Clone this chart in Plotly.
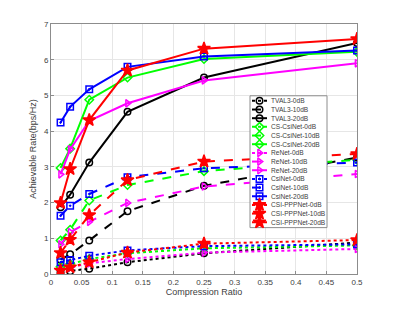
import plotly.graph_objects as go

x = [1/64, 1/32, 1/16, 1/8, 1/4, 1/2]

tval3_0 = [0.05, 0.08, 0.15, 0.33, 0.58, 0.88]
tval3_10 = [0.40, 0.55, 0.94, 1.76, 2.47, 3.26]
tval3_20 = [1.87, 2.22, 3.12, 4.54, 5.50, 6.47]
cscsi_0 = [0.20, 0.28, 0.42, 0.58, 0.72, 0.80]
cscsi_10 = [0.94, 1.24, 2.06, 2.49, 2.88, 3.20]
cscsi_20 = [2.97, 3.51, 4.88, 5.50, 6.02, 6.22]
renet_0 = [0.12, 0.18, 0.30, 0.42, 0.60, 0.70]
renet_10 = [0.83, 1.17, 1.46, 1.99, 2.45, 2.80]
renet_20 = [2.79, 3.49, 4.29, 4.78, 5.42, 5.90]
csinet_0 = [0.33, 0.39, 0.51, 0.66, 0.78, 0.83]
csinet_10 = [1.63, 1.91, 2.24, 2.71, 2.96, 3.12]
csinet_20 = [4.24, 4.68, 5.17, 5.80, 6.09, 6.26]
ppp_0 = [0.10, 0.19, 0.33, 0.60, 0.85, 0.95]
ppp_10 = [0.59, 0.96, 1.65, 2.63, 3.15, 3.36]
ppp_20 = [1.99, 2.94, 4.31, 5.70, 6.31, 6.58]

x_ticks = [0, 0.05, 0.1, 0.15, 0.2, 0.25, 0.3, 0.35, 0.4, 0.45, 0.5]
x_ticktext = ["0", "0.05", "0.1", "0.15", "0.2", "0.25", "0.3", "0.35", "0.4", "0.45", "0.5"]

series = [
    ("TVAL3-0dB", tval3_0, "black", "dot", "circle-open"),
    ("TVAL3-10dB", tval3_10, "black", "dash", "circle-open"),
    ("TVAL3-20dB", tval3_20, "black", "solid", "circle-open"),
    ("CS-CsiNet-0dB", cscsi_0, "#00ff00", "dot", "diamond-open"),
    ("CS-CsiNet-10dB", cscsi_10, "#00ff00", "dash", "diamond-open"),
    ("CS-CsiNet-20dB", cscsi_20, "#00ff00", "solid", "diamond-open"),
    ("ReNet-0dB", renet_0, "#ff00ff", "dot", "triangle-right-open"),
    ("ReNet-10dB", renet_10, "#ff00ff", "dash", "triangle-right-open"),
    ("ReNet-20dB", renet_20, "#ff00ff", "solid", "triangle-right-open"),
    ("CsiNet-0dB", csinet_0, "#0000ff", "dot", "square-open-dot"),
    ("CsiNet-10dB", csinet_10, "#0000ff", "dash", "square-open-dot"),
    ("CsiNet-20dB", csinet_20, "#0000ff", "solid", "square-open-dot"),
    ("CSI-PPPNet-0dB", ppp_0, "#ff0000", "dot", "star"),
    ("CSI-PPPNet-10dB", ppp_10, "#ff0000", "dash", "star"),
    ("CSI-PPPNet-20dB", ppp_20, "#ff0000", "solid", "star"),
]

FONT = "Liberation Sans, Arial"
TXT = "#404040"

def msize(sym):
    return 9.5 if sym == "star" else 6.5

fig = go.Figure()
for name, y, color, dash, sym in series:
    fig.add_trace(go.Scatter(
        x=x, y=y, name=name, mode="lines+markers", showlegend=False,
        line=dict(color=color, dash=dash, width=2),
        marker=dict(symbol=sym, size=msize(sym), color=color,
                    line=dict(color=color, width=1.5)),
    ))

# ---- compact legend drawn on an overlay axis in plot-area fractions ----
PL, PR, PT, PB = 51.0, 357.0, 24.0, 280.0   # plot area in page pixels
def fx(px):
    return (px - PL) / (PR - PL)
def fy(py):
    return (PB - py) / (PB - PT)

bx0, bx1, by0, by1 = 250, 327, 97.5, 232.5
fig.add_trace(go.Scatter(
    x=[fx(bx0), fx(bx1), fx(bx1), fx(bx0), fx(bx0)],
    y=[fy(by0), fy(by0), fy(by1), fy(by1), fy(by0)],
    mode="lines", fill="toself", fillcolor="white",
    line=dict(color="#8c8c8c", width=1), xaxis="x2", yaxis="y2",
    showlegend=False, hoverinfo="skip"))

annotations = []
for i, (name, y, color, dash, sym) in enumerate(series):
    yy = 102.7 + i * 8.88
    fig.add_trace(go.Scatter(
        x=[fx(252), fx(267)], y=[fy(yy), fy(yy)], mode="lines",
        line=dict(color=color, dash=dash, width=2),
        xaxis="x2", yaxis="y2", showlegend=False, hoverinfo="skip"))
    fig.add_trace(go.Scatter(
        x=[fx(259.5)], y=[fy(yy)], mode="markers",
        marker=dict(symbol=sym, size=msize(sym), color=color,
                    line=dict(color=color, width=1.5)),
        xaxis="x2", yaxis="y2", showlegend=False, hoverinfo="skip"))
    annotations.append(dict(
        x=fx(269), y=fy(yy), xref="x2", yref="y2", text=name,
        showarrow=False, xanchor="left", yanchor="middle",
        font=dict(family=FONT, size=6.6, color=TXT)))

axis_common = dict(
    showgrid=True, gridcolor="#e6e6e6", gridwidth=1,
    showline=True, linecolor="#8c8c8c", linewidth=1, mirror=True,
    ticks="inside", ticklen=3, tickcolor="#8c8c8c",
    tickfont=dict(family=FONT, size=8, color=TXT),
    zeroline=False,
)

fig.update_layout(
    width=378, height=299,
    margin=dict(l=43, r=29, t=16, b=27),
    plot_bgcolor="white", paper_bgcolor="white",
    xaxis=dict(range=[0, 0.5], tickvals=x_ticks, ticktext=x_ticktext,
               title=dict(text="Compression Ratio", standoff=2,
                          font=dict(family=FONT, size=9, color=TXT)),
               **axis_common),
    yaxis=dict(range=[0, 7], dtick=1,
               title=dict(text="Achievable Rate(bps/Hz)", standoff=5,
                          font=dict(family=FONT, size=9, color=TXT)),
               **axis_common),
    xaxis2=dict(overlaying="x", range=[0, 1], visible=False, fixedrange=True),
    yaxis2=dict(overlaying="y", range=[0, 1], visible=False, fixedrange=True),
    annotations=annotations,
    showlegend=False,
)

fig.write_html("out.html")
